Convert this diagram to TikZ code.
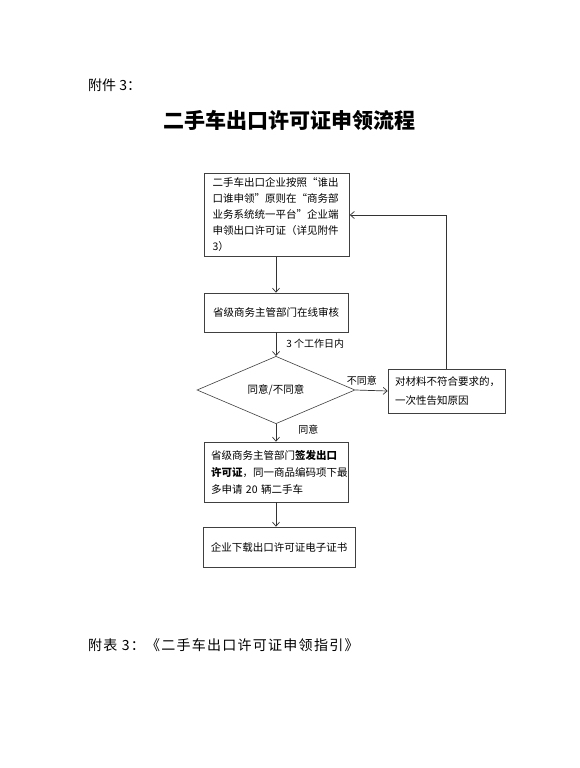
\documentclass[tikz,border=0pt]{standalone}
\usepackage{fontspec}
\setmainfont{Noto Sans CJK SC}
\usetikzlibrary{shapes.geometric,arrows.meta}

\begin{document}
\begin{tikzpicture}[x=1pt,y=-1pt,
	txt/.style={font=\fontsize{10.5}{16}\selectfont},
	box/.style={txt,draw=black!75,line width=0.6pt,inner sep=0pt,align=left},
	lbl/.style={txt,inner sep=0pt,font=\fontsize{10}{12}\selectfont},
	arr/.style={draw=black!80,line width=0.7pt,-{Straight Barb[length=4pt,width=7pt]}}]
	\useasboundingbox[fill=white] (0,0) rectangle (580,768);
	
	% header and footer
	\node[anchor=west,inner sep=0pt,font=\fontsize{14}{16}\selectfont] (fj) at (88,85) {附件 3：};
	\node[anchor=west,inner sep=0pt,font=\fontsize{21}{24}\selectfont\bfseries] (title) at (163,120) {二手车出口许可证申领流程};
	\node[anchor=west,inner sep=0pt,font=\fontsize{14}{16}\selectfont\addfontfeature{LetterSpace=9}] (fb) at (88,645) {附表 3：《二手车出口许可证申领指引》};
	
	% flow
	\node[box,minimum width=145,minimum height=83,text width=129] (apply) at (277,215) {二手车出口企业按照“谁出\\口谁申领”原则在“商务部\\业务系统统一平台”企业端\\申领出口许可证（详见附件\\3）};
	\node[box,minimum width=144,minimum height=39,align=center] (check) at (276,312.5) {省级商务主管部门在线审核};
	\node[txt,draw=black!75,line width=0.6pt,diamond,inner sep=0pt,minimum width=158,minimum height=50] (agree) at (276,390) {同意/不同意};
	\node[box,minimum width=117,minimum height=44,text width=103,font=\fontsize{10.5}{19}\selectfont] (reject) at (446.5,391) {对材料不符合要求的，\\一次性告知原因};
	\node[box,minimum width=144,minimum height=60,text width=130,font=\fontsize{10.5}{17}\selectfont] (issue) at (276,472) {省级商务主管部门\textbf{签发出口}\\\textbf{许可证}，同一商品编码项下最\\多申请 20 辆二手车};
	\node[box,minimum width=152,minimum height=40,align=center] (down) at (279,547) {企业下载出口许可证电子证书};
	
	\draw[arr] (apply.south -| check) -- (check.north);
	\draw[arr] (check.south) -- node[lbl,anchor=west,pos=0.5,xshift=10pt] (days) {3 个工作日内} (agree.north);
	\draw[arr] (agree.east) -- node[lbl,anchor=south,pos=0.2,yshift=5pt] (no) {不同意} (reject.west);
	\draw[arr] (agree.south) -- node[lbl,anchor=west,pos=0.3,xshift=22pt] (yes) {同意} (issue.north);
	\draw[arr] (issue.south) -- (issue.south |- down.north);
	\draw[arr] (reject.north) -- (reject.north |- apply.east) -- (apply.east);
\end{tikzpicture}
\end{document}
